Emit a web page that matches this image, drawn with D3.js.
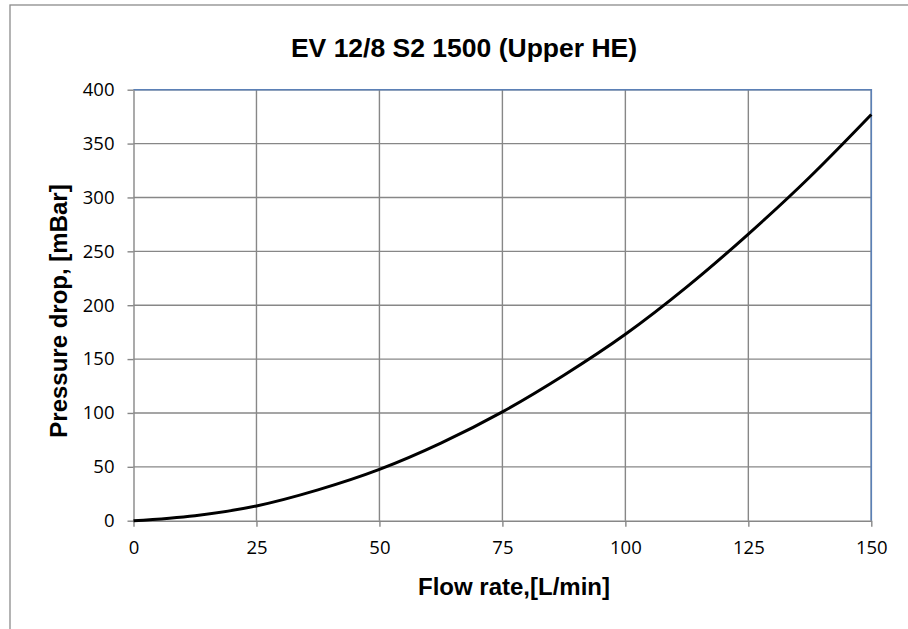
<!DOCTYPE html>
<html><head><meta charset="utf-8">
<script src="https://cdn.jsdelivr.net/npm/d3@7"></script>
<style>body{margin:0;background:#fff}svg{display:block}</style>
</head><body>
<svg id="c" width="908" height="629"></svg>
<script>
const flowRate = [0, 12.5, 25, 37.5, 50, 62.5, 75, 87.5, 100, 112.5, 125, 137.5, 150];
const pressureDrop = [0, 4.7, 13.7, 28.6, 47.6, 72, 101, 135, 173, 217, 266, 319, 377];
const xTicks = [0, 25, 50, 75, 100, 125, 150];
const yTicks = [0, 50, 100, 150, 200, 250, 300, 350, 400];
const title = "EV 12/8 S2 1500 (Upper HE)";
const xTitle = "Flow rate,[L/min]";
const yTitle = "Pressure drop, [mBar]";

const svg = d3.select("#c");
const L = 133.5, R = 871.3, T = 89.7, B = 520.7;
const x = d3.scaleLinear().domain([0, 150]).range([L, R]);
const y = d3.scaleLinear().domain([0, 400]).range([B, T]);

// outer chart border
svg.append("rect").attr("x", 10).attr("y", 5).attr("width", 1000).attr("height", 1000)
  .attr("fill", "none").attr("stroke", "#8c8c8c").attr("stroke-width", 1.3);

// gridlines
svg.append("g").selectAll("line").data(yTicks.slice(1)).join("line")
  .attr("x1", L).attr("x2", R).attr("y1", d => y(d)).attr("y2", d => y(d))
  .attr("stroke", "#878787").attr("stroke-width", 1.4);
svg.append("g").selectAll("line").data(xTicks.slice(1)).join("line")
  .attr("y1", T).attr("y2", B).attr("x1", d => x(d)).attr("x2", d => x(d))
  .attr("stroke", "#878787").attr("stroke-width", 1.4);

// plot border top/right blue
svg.append("path").attr("d", `M${L},${T}H${R}V${B}`).attr("fill", "none")
  .attr("stroke", "#5b80b6").attr("stroke-width", 1.6);

// axes
const fontTick = "'Open Sans', Lato, sans-serif";
const ya = svg.append("g").attr("transform", `translate(${L},0)`)
  .call(d3.axisLeft(y).tickValues(yTicks).tickSize(6).tickPadding(13).tickSizeOuter(0));
const xa = svg.append("g").attr("transform", `translate(0,${B})`)
  .call(d3.axisBottom(x).tickValues(xTicks).tickSize(6).tickPadding(14).tickSizeOuter(0));
[ya, xa].forEach(g => {
  g.attr("font-size", 18.5).attr("font-family", fontTick);
  g.select(".domain").attr("stroke", "#878787").attr("stroke-width", 1.4);
  g.selectAll(".tick line").attr("stroke", "#878787").attr("stroke-width", 1.4);
  g.selectAll(".tick text").attr("fill", "#000");
});

// curve
svg.append("path").datum(flowRate.map((f, i) => [f, pressureDrop[i]]))
  .attr("fill", "none").attr("stroke", "#000").attr("stroke-width", 3)
  .attr("d", d3.line().x(d => x(d[0])).y(d => y(d[1])).curve(d3.curveMonotoneX));

const fontBold = "'Liberation Sans', Arial, sans-serif";
svg.append("text").attr("x", 464).attr("y", 57).attr("text-anchor", "middle")
  .attr("font-family", fontBold).attr("font-weight", "bold").attr("font-size", 26.5).text(title);
svg.append("text").attr("x", 514).attr("y", 595).attr("text-anchor", "middle")
  .attr("font-family", fontBold).attr("font-weight", "bold").attr("font-size", 24).text(xTitle);
svg.append("text").attr("transform", `translate(67,311) rotate(-90)`).attr("text-anchor", "middle")
  .attr("font-family", fontBold).attr("font-weight", "bold").attr("font-size", 24).text(yTitle);
</script>
</body></html>
